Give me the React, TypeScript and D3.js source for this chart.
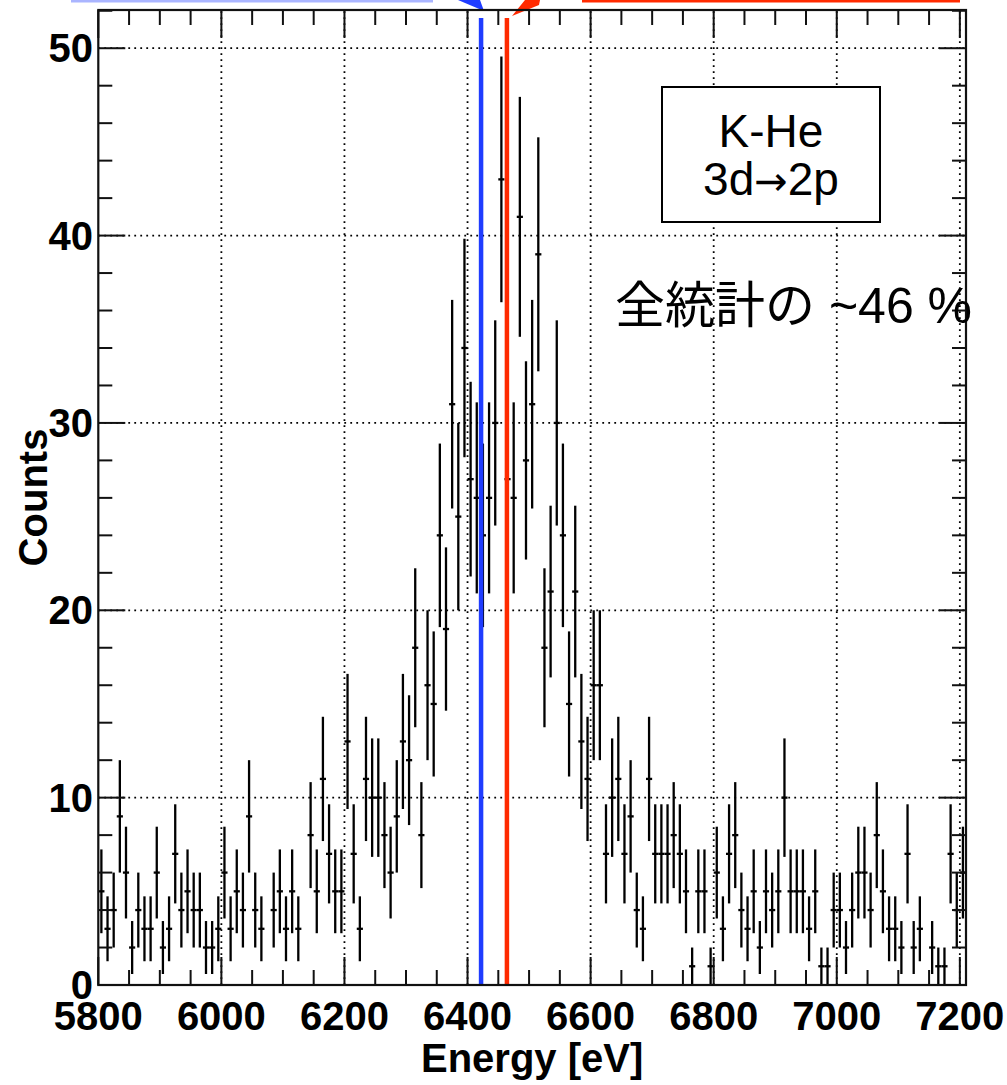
import React from 'react';
import * as d3 from 'd3';

// Histogram counts, 10 eV bins starting at 5800 eV
const counts = [
  5, 3, 4, 9, 6, 2, 4, 3, 3, 6,
  2, 3, 7, 4, 5, 4, 4, 2, 2, 3,
  6, 3, 5, 4, 9, 4, 3, 0, 4, 5,
  3, 5, 3, 0, 8, 5, 11, 7, 5, 5,
  13, 7, 3, 11, 10, 10, 8, 6, 9, 13,
  12, 18, 8, 16, 15, 24, 19, 31, 25, 34,
  27, 26, 24, 26, 30, 43, 27, 26, 41, 28,
  31, 39, 18, 21, 30, 24, 15, 21, 13, 11,
  16, 16, 7, 10, 11, 7, 9, 4, 3, 11,
  7, 7, 7, 8, 7, 5, 1, 5, 5, 1,
  6, 3, 7, 8, 4, 3, 5, 2, 5, 4,
  5, 10, 5, 5, 5, 3, 5, 1, 1, 4,
  4, 2, 4, 6, 6, 4, 8, 5, 3, 3,
  2, 7, 2, 3, 0, 2, 1, 1, 7, 4,
  6,
];
const binStart = 5800;
const binWidth = 10;
const xDomain = [5800, 7210];
const yDomain = [0, 52.04];
const xMajorTicks = [5800, 6000, 6200, 6400, 6600, 6800, 7000, 7200];
const yMajorTicks = [0, 10, 20, 30, 40, 50];
const lineEnergies = [6422, 6464];
const boxTitle = 'K-He';
const boxTransition = ['3d', '→', '2p'];
const noteText = '全統計の ~46 %';
const xTitle = 'Energy [eV]';
const yTitle = 'Counts';

const FONT = '"Liberation Sans", Arial, Helvetica, "Noto Sans CJK JP", sans-serif';

export default function App() {
  const W = 1007;
  const H = 1085;
  const left = 98.3, right = 966, top = 10, bottom = 985;
  const x = d3.scaleLinear().domain(xDomain).range([left, right]);
  const y = d3.scaleLinear().domain(yDomain).range([bottom, top]);

  const xMinor = d3.range(5800, 7210, 50).filter((v) => v % 200 !== 0);
  const yMinor = d3.range(0, yDomain[1], 2).filter((v) => v % 10 !== 0);
  const xMajLen = 28, xMinLen = 15, yMajLen = 27, yMinLen = 14;

  const bins = counts.map((c, i) => ({
    lo: binStart + i * binWidth,
    hi: binStart + (i + 1) * binWidth,
    c,
  }));

  const colors = ['#1f3cff', '#ff2a00'];

  return (
    <div style={{ position: 'absolute', left: 0, top: 0 }}>
      <svg width={W} height={H} viewBox={`0 0 ${W} ${H}`} style={{ display: 'block', background: '#fff' }}>
        <rect x={0} y={0} width={W} height={H} fill="#fff" />

        {/* top decorations (clipped arrows) */}
        <rect x={71} y={0} width={362} height={2.5} fill="#aab5ff" />
        <rect x={582} y={0} width={378} height={2.5} fill="#ff2a00" />
        <polygon points="458,0 480,0 484,11" fill="#1f3cff" />
        <polygon points="512,16 525,0 540,0 539,5" fill="#ff2a00" />

        {/* grid */}
        <g stroke="#000" strokeWidth={1.8} strokeDasharray="1.8 4.2">
          {xMajorTicks.filter((t) => t !== 5800).map((t) => (
            <line key={'gx' + t} x1={x(t)} x2={x(t)} y1={bottom} y2={top} />
          ))}
          {yMajorTicks.filter((t) => t !== 0).map((t) => (
            <line key={'gy' + t} x1={left} x2={right} y1={y(t)} y2={y(t)} />
          ))}
        </g>

        {/* text box */}
        <rect x={662} y={87} width={218} height={135} fill="#fff" stroke="#000" strokeWidth={2} />
        <text x={771} y={147} textAnchor="middle" fontFamily={FONT} fontSize={46} fill="#000">
          {boxTitle}
        </text>
        <text x={771} y={195} textAnchor="middle" fontFamily={FONT} fontSize={46} fill="#000">
          {boxTransition[0]}
          <tspan fontFamily='"DejaVu Sans", sans-serif' fontSize={40}>{boxTransition[1]}</tspan>
          {boxTransition[2]}
        </text>

        {/* histogram with error bars */}
        <g stroke="#000" strokeWidth={2.3} fill="none">
          {bins.filter((b) => b.c > 0).map((b) => {
            const xc = x((b.lo + b.hi) / 2);
            const e = Math.sqrt(b.c);
            return (
              <g key={b.lo}>
                <line x1={x(b.lo)} x2={x(b.hi)} y1={y(b.c)} y2={y(b.c)} />
                <line x1={xc} x2={xc} y1={y(Math.max(0, b.c - e))} y2={y(b.c + e)} />
              </g>
            );
          })}
        </g>

        {/* vertical energy lines */}
        {lineEnergies.map((e, i) => (
          <line key={e} x1={x(e)} x2={x(e)} y1={18} y2={bottom} stroke={colors[i]} strokeWidth={4.5} />
        ))}

        {/* ticks */}
        <g stroke="#111" strokeWidth={2}>
          {xMajorTicks.map((t) => (
            <g key={'xt' + t}>
              <line x1={x(t)} x2={x(t)} y1={bottom} y2={bottom - xMajLen} />
              <line x1={x(t)} x2={x(t)} y1={top} y2={top + xMajLen} />
            </g>
          ))}
          {xMinor.map((t) => (
            <g key={'xm' + t}>
              <line x1={x(t)} x2={x(t)} y1={bottom} y2={bottom - xMinLen} />
              <line x1={x(t)} x2={x(t)} y1={top} y2={top + xMinLen} />
            </g>
          ))}
          {yMajorTicks.map((t) => (
            <g key={'yt' + t}>
              <line x1={left} x2={left + yMajLen} y1={y(t)} y2={y(t)} />
              <line x1={right} x2={right - yMajLen} y1={y(t)} y2={y(t)} />
            </g>
          ))}
          {yMinor.map((t) => (
            <g key={'ym' + t}>
              <line x1={left} x2={left + yMinLen} y1={y(t)} y2={y(t)} />
              <line x1={right} x2={right - yMinLen} y1={y(t)} y2={y(t)} />
            </g>
          ))}
        </g>

        {/* frame */}
        <rect x={left} y={top} width={right - left} height={bottom - top} fill="none" stroke="#111" strokeWidth={2.2} />

        {/* tick labels */}
        {xMajorTicks.map((t) => (
          <text key={'xl' + t} x={x(t)} y={1030} textAnchor="middle" fontFamily={FONT} fontWeight="bold" fontSize={40} fill="#000">
            {t}
          </text>
        ))}
        {yMajorTicks.map((t) => (
          <text key={'yl' + t} x={93} y={y(t) + 14} textAnchor="end" fontFamily={FONT} fontWeight="bold" fontSize={40} fill="#000">
            {t}
          </text>
        ))}

        {/* axis titles */}
        <text x={(left + right) / 2} y={1072} textAnchor="middle" fontFamily={FONT} fontWeight="bold" fontSize={40} fill="#000">
          {xTitle}
        </text>
        <text
          transform={`translate(47, ${(top + bottom) / 2}) rotate(-90)`}
          textAnchor="middle"
          fontFamily={FONT}
          fontWeight="bold"
          fontSize={40}
          fill="#000"
        >
          {yTitle}
        </text>

        {/* note */}
        <text x={615} y={323} fontFamily={FONT} fontSize={50} fill="#000">
          {noteText}
        </text>
      </svg>
    </div>
  );
}
